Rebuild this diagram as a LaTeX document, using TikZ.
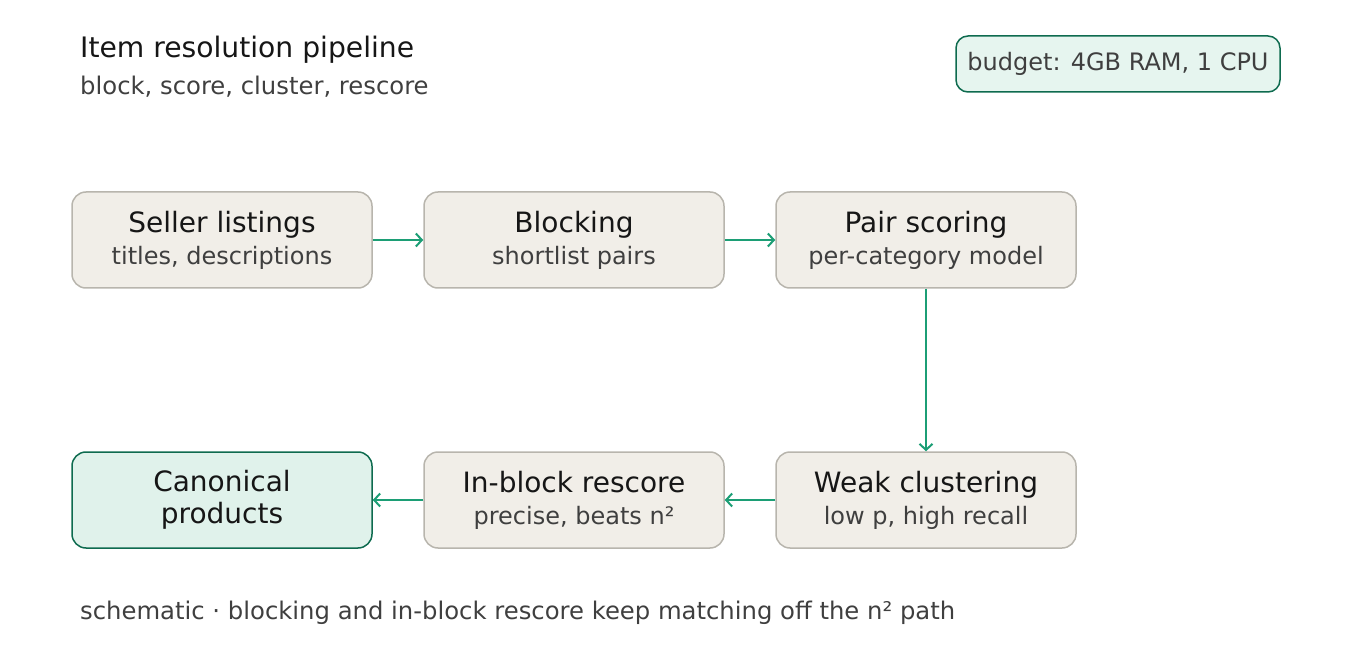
\documentclass[tikz,border=0pt]{standalone}
\usepackage{fontspec}
\setmainfont{DejaVu Sans}
\usetikzlibrary{arrows.meta}
\definecolor{stagefill}{HTML}{F1EEE8}
\definecolor{stageline}{HTML}{B8B5AD}
\definecolor{mintfill}{HTML}{E0F2EB}
\definecolor{mintline}{HTML}{0E6B4F}
\definecolor{flow}{HTML}{1C9E75}
\definecolor{ink}{HTML}{161616}
\definecolor{soft}{HTML}{3F3F3F}
\newcommand{\twoline}[2]{{\fontsize{28}{32}\selectfont\color{ink}#1}\\{\color{soft}#2}}
\tikzset{stage/.style={draw=stageline,fill=stagefill,line width=1.5pt,rounded corners=14pt,minimum width=300pt,minimum height=96pt,inner sep=0pt,align=center,font=\fontsize{24}{32}\selectfont}}
\tikzset{mint/.style={stage,draw=mintline,fill=mintfill}}
\tikzset{flowarrow/.style={flow,line width=2pt,-{Straight Barb[length=6pt,width=13pt]}}}
\tikzset{note/.style={anchor=base west,inner sep=0pt,text=soft,font=\fontsize{24.3}{30}\selectfont}}

\begin{document}
\begin{tikzpicture}[x=1pt,y=-1pt]
	\useasboundingbox (0,0) rectangle (1360,652);

	% heading
	\node[note,text=ink,font=\fontsize{28.2}{32}\selectfont] (title) at (80,58) {Item resolution pipeline};
	\node[note] (subtitle) at (80,95) {block, score, cluster, rescore};
	\node[mint,minimum width=324pt,minimum height=56pt,rounded corners=12pt,text=soft,fill=mintfill!80!white] (budget) at (1118,64) {budget: 4GB RAM, 1 CPU};

	% stages
	\node[stage] (listings) at (222,240) {\twoline{Seller listings}{titles, descriptions}};
	\node[stage] (blocking) at (574,240) {\twoline{Blocking}{shortlist pairs}};
	\node[stage] (scoring) at (926,240) {\twoline{Pair scoring}{per-category model}};
	\node[stage] (clustering) at (926,500) {\twoline{Weak clustering}{low p, high recall}};
	\node[stage] (rescore) at (574,500) {\twoline{In-block rescore}{precise, beats n²}};
	\node[mint,font=\fontsize{28}{32}\selectfont,text=ink] (products) at (222,500) {Canonical\\products};

	\draw[flowarrow] (listings) -- (blocking);
	\draw[flowarrow] (blocking) -- (scoring);
	\draw[flowarrow] (scoring) -- (clustering);
	\draw[flowarrow] (clustering) -- (rescore);
	\draw[flowarrow] (rescore) -- (products);

	\node[note] (footer) at (80,619) {schematic · blocking and in-block rescore keep matching off the n² path};
\end{tikzpicture}
\end{document}
